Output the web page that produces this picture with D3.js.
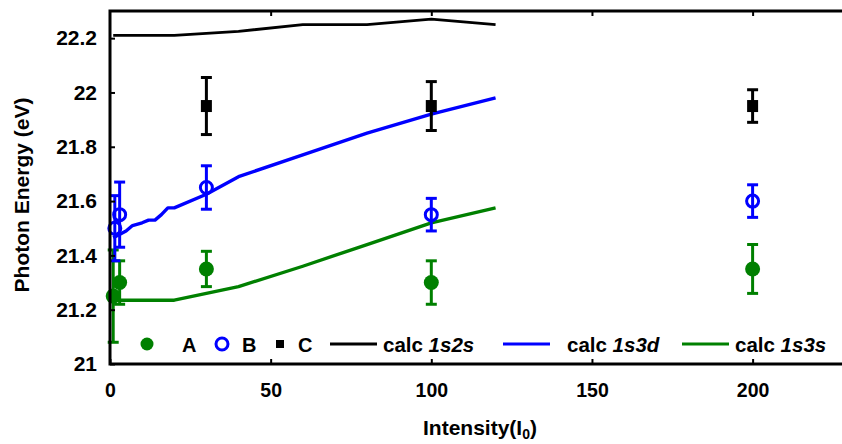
<!DOCTYPE html>
<html lang="en">
<head>
<meta charset="UTF-8">
<title>Photon Energy vs Intensity</title>
<style>
  body { margin: 0; background: #fff; overflow: hidden; }
  svg { display: block; }
  text { font-family: 'Liberation Sans', Arial, sans-serif; font-weight: bold; fill: #000; }
  .tick line { stroke: #000; stroke-width: 2; }
</style>
</head>
<body>
<svg width="842" height="444"></svg>
<script src="https://cdn.jsdelivr.net/npm/d3@7/dist/d3.min.js"></script>
<script>
// measured points (intensity, energy, error)
const aIntensity = [1, 3, 30, 100, 200];
const aEnergy = [21.25, 21.30, 21.35, 21.30, 21.35];
const aError = [0.17, 0.08, 0.065, 0.08, 0.09];

const bIntensity = [1.5, 3, 30, 100, 200];
const bEnergy = [21.50, 21.55, 21.65, 21.55, 21.60];
const bError = [0.12, 0.12, 0.08, 0.06, 0.06];

const cIntensity = [30, 100, 200];
const cEnergy = [21.95, 21.95, 21.95];
const cError = [0.105, 0.09, 0.06];

// calculated curves
const calc2sIntensity = [1, 20, 40, 60, 80, 100, 120];
const calc1s2s = [22.21, 22.21, 22.225, 22.25, 22.25, 22.27, 22.25];
const calc3dIntensity = [1, 5, 7, 10, 12, 14, 16, 18, 20, 30, 40, 60, 80, 100, 120];
const calc1s3d = [21.465, 21.49, 21.51, 21.52, 21.53, 21.53, 21.55, 21.575, 21.575, 21.625, 21.69, 21.77, 21.85, 21.92, 21.98];
const calc3sIntensity = [1, 20, 40, 60, 80, 100, 120];
const calc1s3s = [21.235, 21.235, 21.285, 21.36, 21.44, 21.52, 21.575];

const intensityTicks = [0, 50, 100, 150, 200];
const energyTicks = [21, 21.2, 21.4, 21.6, 21.8, 22, 22.2];

const GREEN = "#008000", BLUE = "#0000ff", BLACK = "#000000";

const svg = d3.select("svg");
const x = d3.scaleLinear().domain([0, 230]).range([110, 849]);
const y = d3.scaleLinear().domain([21, 22.3]).range([364, 11]);

const zip = (xs, ys, es) => xs.map((v, i) => ({ x: v, y: ys[i], e: es ? es[i] : 0 }));

// calc lines
const line = d3.line().x(d => x(d.x)).y(d => y(d.y));
[
  [calc2sIntensity, calc1s2s, BLACK, 2.8],
  [calc3dIntensity, calc1s3d, BLUE, 3.4],
  [calc3sIntensity, calc1s3s, GREEN, 3.4]
].forEach(([xs, ys, col, w]) => {
  svg.append("path")
    .datum(zip(xs, ys))
    .attr("fill", "none")
    .attr("stroke", col)
    .attr("stroke-width", w)
    .attr("stroke-linejoin", "round")
    .attr("d", line);
});

// error bars
function errorBars(data, col) {
  const g = svg.append("g").attr("stroke", col).attr("stroke-width", 3);
  g.selectAll(".v").data(data).join("line")
    .attr("x1", d => x(d.x)).attr("x2", d => x(d.x))
    .attr("y1", d => y(d.y - d.e)).attr("y2", d => y(d.y + d.e));
  g.selectAll(".lo").data(data).join("line")
    .attr("x1", d => x(d.x) - 5.5).attr("x2", d => x(d.x) + 5.5)
    .attr("y1", d => y(d.y - d.e)).attr("y2", d => y(d.y - d.e));
  g.selectAll(".hi").data(data).join("line")
    .attr("x1", d => x(d.x) - 5.5).attr("x2", d => x(d.x) + 5.5)
    .attr("y1", d => y(d.y + d.e)).attr("y2", d => y(d.y + d.e));
}

const dataA = zip(aIntensity, aEnergy, aError);
const dataB = zip(bIntensity, bEnergy, bError);
const dataC = zip(cIntensity, cEnergy, cError);

errorBars(dataA, GREEN);
svg.append("g").selectAll("circle").data(dataA).join("circle")
  .attr("cx", d => x(d.x)).attr("cy", d => y(d.y)).attr("r", 7.5)
  .attr("fill", GREEN);

errorBars(dataB, BLUE);
svg.append("g").selectAll("circle").data(dataB).join("circle")
  .attr("cx", d => x(d.x)).attr("cy", d => y(d.y)).attr("r", 6)
  .attr("fill", "none").attr("stroke", BLUE).attr("stroke-width", 3);

errorBars(dataC, BLACK);
svg.append("g").selectAll("rect").data(dataC).join("rect")
  .attr("x", d => x(d.x) - 5.5).attr("y", d => y(d.y) - 6)
  .attr("width", 11).attr("height", 12)
  .attr("fill", BLACK);

// axes
const fmt = d => String(+d.toFixed(1));

const xAxis = svg.append("g")
  .attr("transform", "translate(0,364)")
  .call(d3.axisBottom(x).tickValues(intensityTicks).tickSize(-5).tickPadding(19).tickFormat(d3.format("d")));
xAxis.select(".domain").remove();
xAxis.selectAll("text").attr("font-size", "19.5px");

const topAxis = svg.append("g")
  .attr("transform", "translate(0,11)")
  .call(d3.axisTop(x).tickValues(intensityTicks.slice(1)).tickSize(-5).tickFormat(""));
topAxis.select(".domain").remove();

const yAxis = svg.append("g")
  .attr("transform", "translate(110,0)")
  .call(d3.axisLeft(y).tickValues(energyTicks).tickSize(-5).tickPadding(13).tickFormat(fmt));
yAxis.select(".domain").remove();
yAxis.selectAll("text").attr("font-size", "21px");

// frame
svg.append("rect")
  .attr("x", x(0)).attr("y", y(22.3))
  .attr("width", x(230) - x(0)).attr("height", y(21) - y(22.3))
  .attr("fill", "none").attr("stroke", BLACK).attr("stroke-width", 3);

// axis titles
svg.append("text")
  .attr("transform", "translate(29,195) rotate(-90)")
  .attr("text-anchor", "middle")
  .attr("font-size", "21px")
  .text("Photon Energy (eV)");

const xTitle = svg.append("text")
  .attr("x", 480).attr("y", 435)
  .attr("text-anchor", "middle")
  .attr("font-size", "21px");
xTitle.append("tspan").text("Intensity(I");
xTitle.append("tspan").attr("font-size", "14px").attr("dy", 4).text("0");
xTitle.append("tspan").attr("dy", -4).text(")");

// legend
const legY = 344;
const leg = svg.append("g");
leg.append("circle").attr("cx", 147).attr("cy", legY).attr("r", 6.5).attr("fill", GREEN);
leg.append("text").attr("x", 182).attr("y", legY + 8).attr("font-size", "20px").text("A");
leg.append("circle").attr("cx", 222).attr("cy", legY).attr("r", 6)
  .attr("fill", "none").attr("stroke", BLUE).attr("stroke-width", 3);
leg.append("text").attr("x", 242).attr("y", legY + 8).attr("font-size", "20px").text("B");
leg.append("rect").attr("x", 276).attr("y", legY - 4).attr("width", 8).attr("height", 8).attr("fill", BLACK);
leg.append("text").attr("x", 298).attr("y", legY + 8).attr("font-size", "20px").text("C");

[
  [330, BLACK, 383, "1s2s"],
  [503, BLUE, 567, "1s3d"],
  [682, GREEN, 735, "1s3s"]
].forEach(([lx, col, tx, lab]) => {
  leg.append("line")
    .attr("x1", lx).attr("x2", lx + 47)
    .attr("y1", legY).attr("y2", legY)
    .attr("stroke", col).attr("stroke-width", 3);
  const t = leg.append("text").attr("x", tx).attr("y", legY + 8).attr("font-size", "20.5px");
  t.append("tspan").text("calc ");
  t.append("tspan").attr("font-style", "italic").text(lab);
});
</script>
</body>
</html>
